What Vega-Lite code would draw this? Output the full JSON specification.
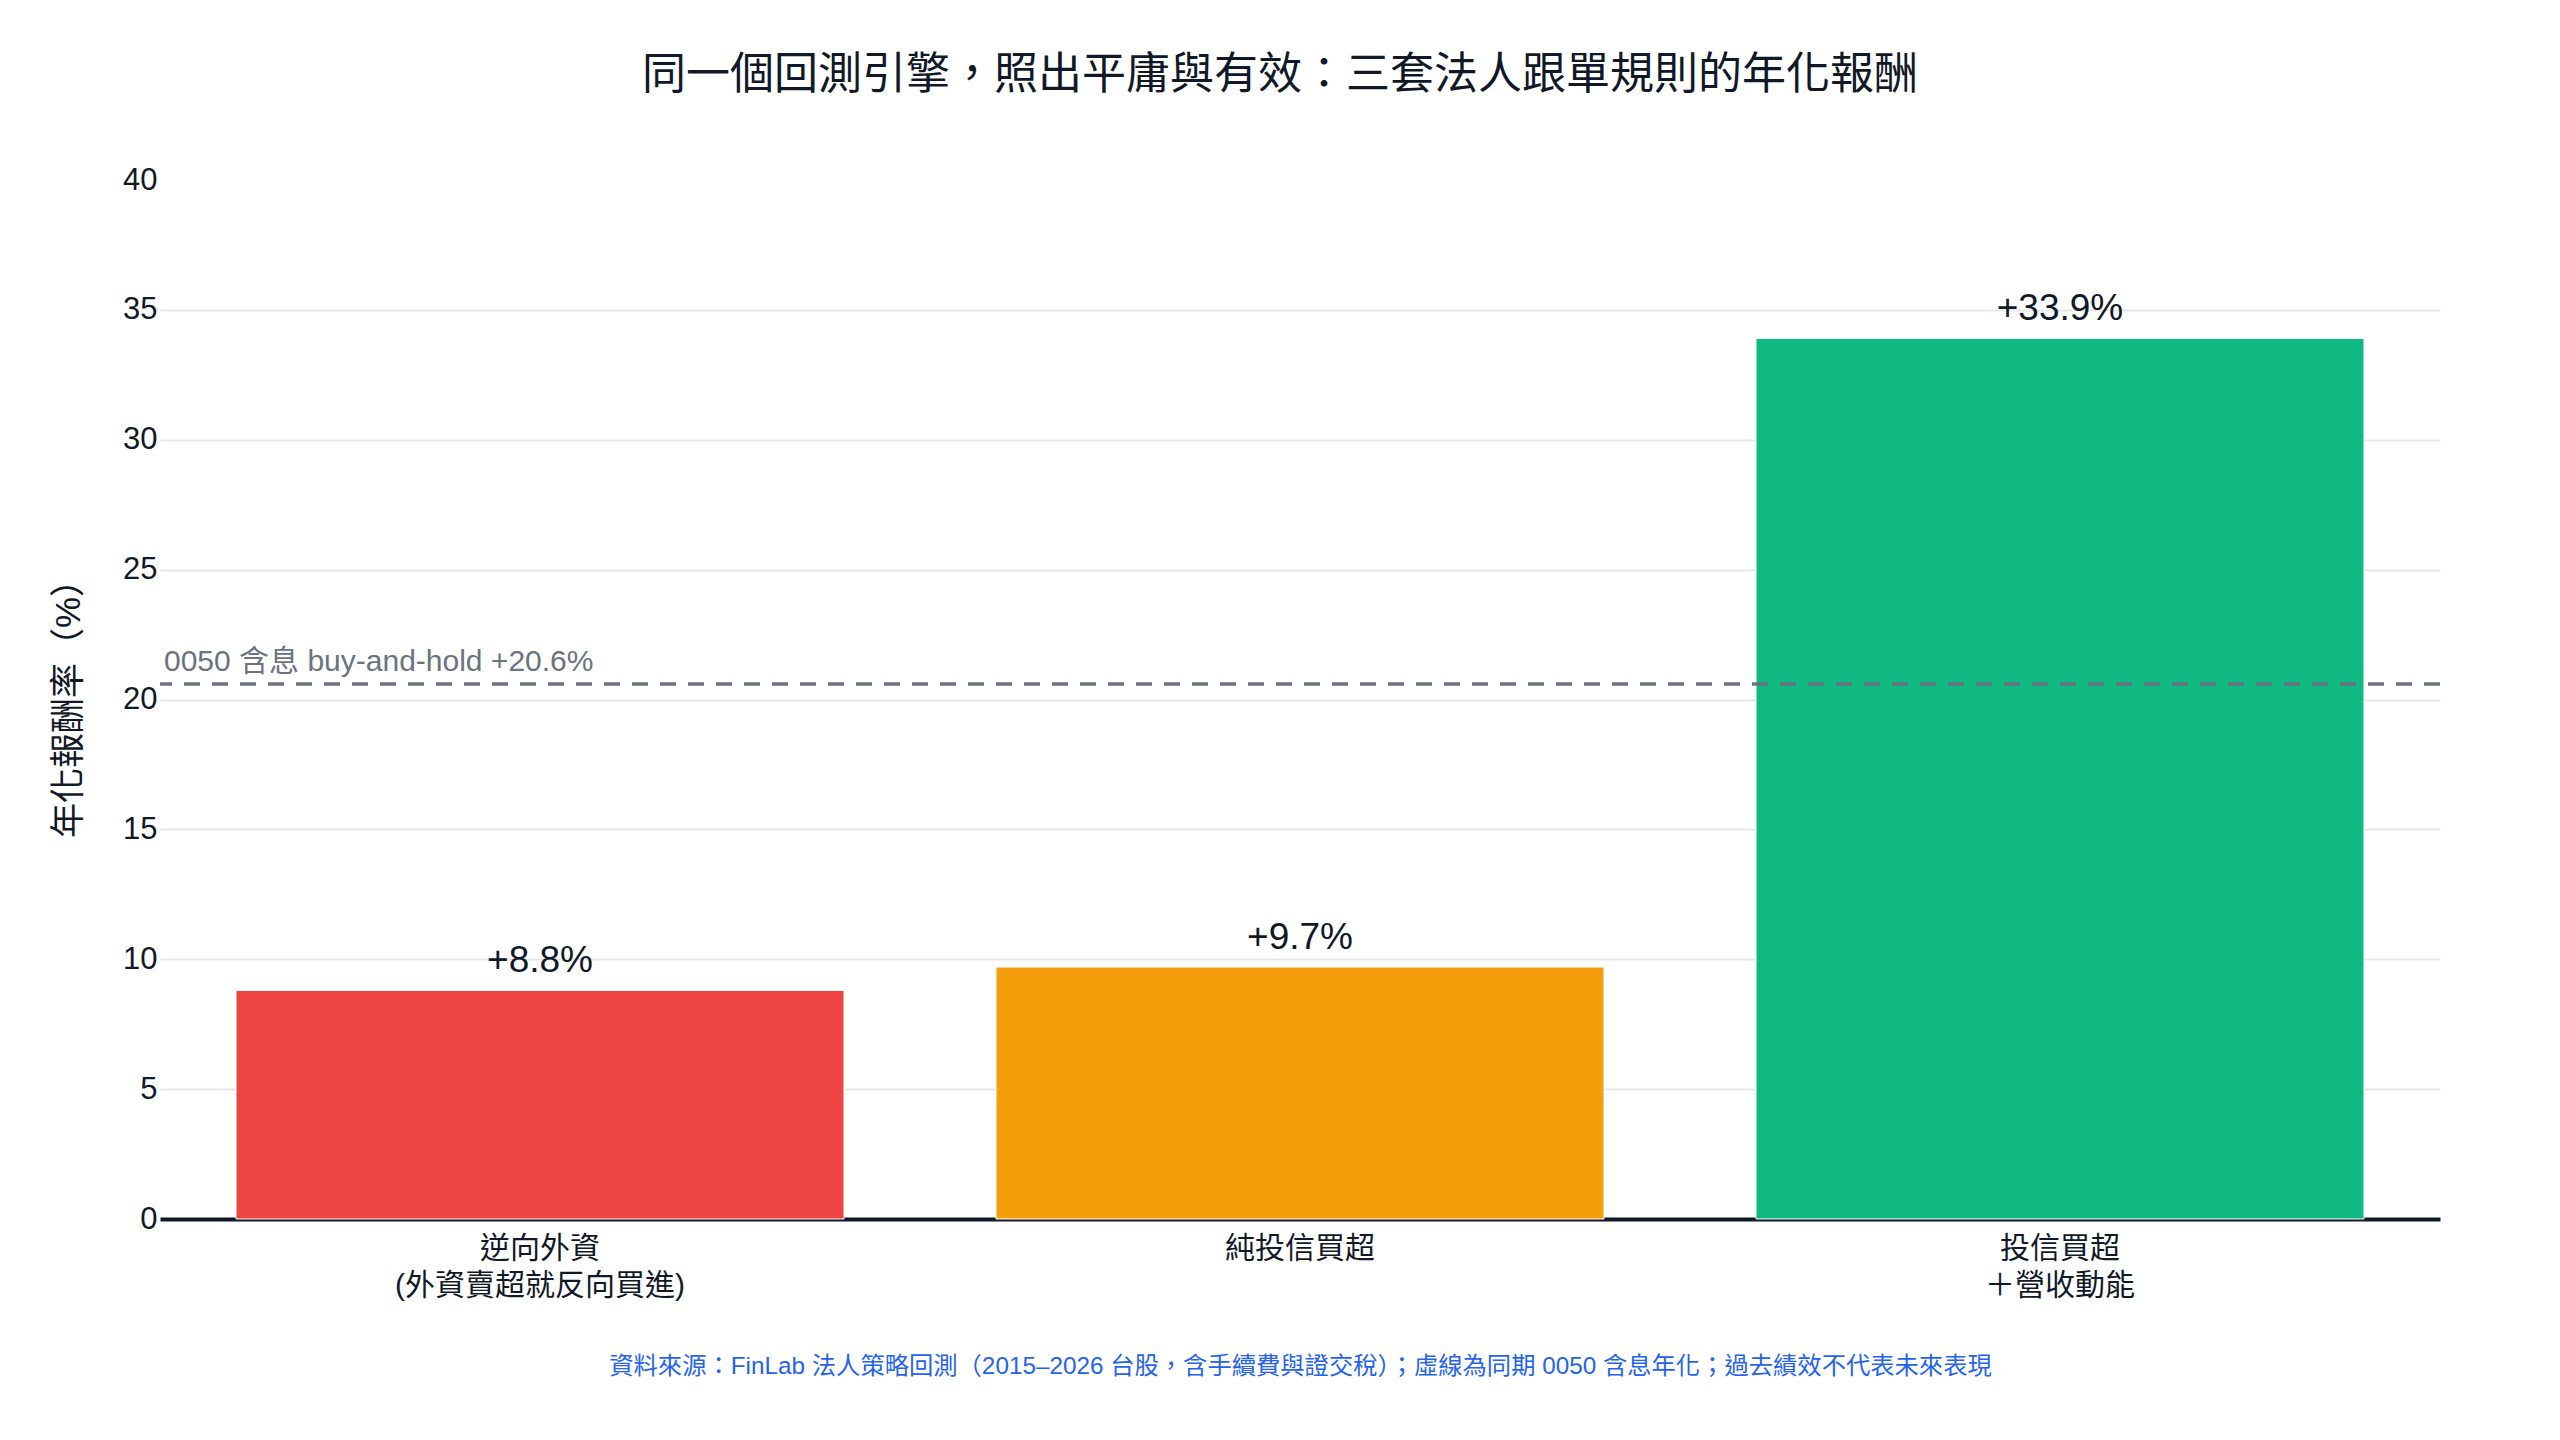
{
  "$schema": "https://vega.github.io/schema/vega-lite/v6.json",
  "description": "三套法人跟單規則的年化報酬，與 0050 含息 buy-and-hold 基準比較",
  "width": 2280,
  "height": 1039,
  "autosize": {"type": "none"},
  "padding": {"left": 160, "top": 180, "right": 120, "bottom": 221},
  "background": "white",
  "config": {
    "font": "Liberation Sans, Noto Sans CJK TC, sans-serif",
    "view": {"stroke": null}
  },
  "title": {
    "text": "同一個回測引擎，照出平庸與有效：三套法人跟單規則的年化報酬",
    "fontSize": 44,
    "fontWeight": "normal",
    "color": "#111827",
    "anchor": "middle",
    "frame": "group",
    "dx": -20,
    "offset": 66
  },
  "data": {
    "values": [
      {"strategy": "逆向外資\n(外資賣超就反向買進)", "ret": 8.8, "label": "+8.8%"},
      {"strategy": "純投信買超", "ret": 9.7, "label": "+9.7%"},
      {"strategy": "投信買超\n＋營收動能", "ret": 33.9, "label": "+33.9%"}
    ]
  },
  "encoding": {
    "x": {
      "field": "strategy",
      "type": "nominal",
      "sort": null,
      "scale": {"paddingInner": 0.2, "paddingOuter": 0.1},
      "axis": {
        "title": "資料來源：FinLab 法人策略回測（2015–2026 台股，含手續費與證交稅）；虛線為同期 0050 含息年化；過去績效不代表未來表現",
        "titleFontSize": 24.3,
        "titleFontWeight": "normal",
        "titleColor": "#2563eb",
        "titlePadding": 54,
        "labelAngle": 0,
        "labelFontSize": 30,
        "labelColor": "#111827",
        "labelLineHeight": 37,
        "labelPadding": 14,
        "labelLimit": 0,
        "labelExpr": "split(datum.label, '\\n')",
        "ticks": false,
        "domainColor": "#111827",
        "domainWidth": 4
      }
    },
    "y": {
      "field": "ret",
      "type": "quantitative",
      "scale": {"domain": [0, 40]},
      "axis": {
        "title": "年化報酬率（%）",
        "titleFontSize": 35,
        "titleFontWeight": "normal",
        "titleColor": "#111827",
        "titlePadding": 36,
        "values": [0, 5, 10, 15, 20, 25, 30, 35, 40],
        "labelFontSize": 31,
        "labelColor": "#111827",
        "labelPadding": 3,
        "ticks": false,
        "domain": false,
        "gridColor": "#e5e7eb",
        "gridWidth": 2,
        "gridOpacity": {"condition": {"test": "datum.value === 40 || datum.value === 0", "value": 0}, "value": 1}
      }
    }
  },
  "layer": [
    {
      "mark": {"type": "bar", "stroke": "white", "strokeWidth": 1},
      "encoding": {
        "color": {
          "field": "strategy",
          "type": "nominal",
          "sort": null,
          "scale": {"range": ["#ef4444", "#f59e0b", "#10b981"]},
          "legend": null
        }
      }
    },
    {
      "mark": {"type": "text", "baseline": "alphabetic", "dy": -18, "fontSize": 37, "color": "#111827"},
      "encoding": {
        "text": {"field": "label"}
      }
    },
    {
      "data": {"values": [{"bench": 20.6, "note": "0050 含息 buy-and-hold +20.6%"}]},
      "mark": {"type": "rule", "strokeDash": [16, 12], "strokeWidth": 3.5, "color": "#6b7280"},
      "encoding": {
        "x": null,
        "y": {"field": "bench", "type": "quantitative"}
      }
    },
    {
      "data": {"values": [{"bench": 20.6, "note": "0050 含息 buy-and-hold +20.6%"}]},
      "mark": {"type": "text", "align": "left", "baseline": "alphabetic", "dy": -13, "dx": -72, "fontSize": 30, "color": "#6b7280"},
      "encoding": {
        "x": {"datum": "逆向外資\n(外資賣超就反向買進)", "bandPosition": 0},
        "y": {"field": "bench", "type": "quantitative"},
        "text": {"field": "note"}
      }
    }
  ]
}
